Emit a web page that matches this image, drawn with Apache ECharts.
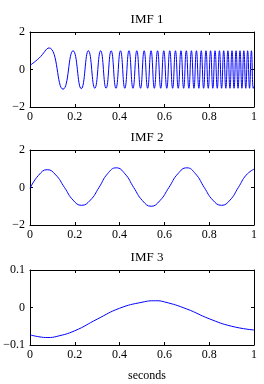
<!DOCTYPE html>
<html><head><meta charset="utf-8">
<script src="https://cdn.jsdelivr.net/npm/echarts@6/dist/echarts.min.js"></script>
<style>html,body{margin:0;padding:0;background:#fff}#c{width:264px;height:384px}</style>
</head><body><div id="c"></div>
<script>
// IMF 1 (chirp): extrema
const imf1T = [0, 0.04, 0.085, 0.1475, 0.1922, 0.2288, 0.2607, 0.2893, 0.3154, 0.3396, 0.3623, 0.3837, 0.4040, 0.4233, 0.4419, 0.4597, 0.4769, 0.4935, 0.5096, 0.5252, 0.5404, 0.5551, 0.5695, 0.5836, 0.5973, 0.6107, 0.6239, 0.6368, 0.6494, 0.6618, 0.6740, 0.6859, 0.6977, 0.7093, 0.7206, 0.7319, 0.7429, 0.7538, 0.7645, 0.7751, 0.7856, 0.7959, 0.8061, 0.8162, 0.8261, 0.8360, 0.8457, 0.8553, 0.8648, 0.8742, 0.8835, 0.8927, 0.9018, 0.9109, 0.9198, 0.9287, 0.9374, 0.9461, 0.9547, 0.9633, 0.9717, 0.9801, 0.9885, 0.9967, 1.0];
const imf1V = [0.22, 0.6, 1.15, -1.05, 1.0, -1.02, 1.0, -1.0, 1.0, -1.0, 1.0, -1.0, 1.0, -1.0, 1.0, -1.0, 1.0, -1.0, 1.0, -1.0, 1.0, -1.0, 1.0, -1.0, 1.0, -1.0, 1.0, -1.0, 1.0, -1.0, 1.0, -1.0, 1.0, -1.0, 1.0, -1.0, 1.0, -1.0, 1.0, -1.0, 1.0, -1.0, 1.0, -1.0, 1.0, -1.0, 1.0, -1.0, 1.0, -1.0, 1.0, -1.0, 1.0, -1.0, 1.0, -1.0, 1.0, -1.0, 1.0, -1.0, 1.0, -1.0, 1.0, -1.0, -0.9];
// IMF 2
const imf2T = [0, 0.038, 0.077, 0.115, 0.154, 0.192, 0.23, 0.269, 0.308, 0.346, 0.385, 0.424, 0.463, 0.502, 0.541, 0.58, 0.62, 0.66, 0.70, 0.739, 0.778, 0.816, 0.855, 0.893, 0.93, 0.965, 1.0];
const imf2V = [-0.05, 0.65, 0.95, 0.67, 0, -0.67, -0.95, -0.68, 0, 0.73, 1.05, 0.73, 0, -0.7, -1.0, -0.7, 0, 0.73, 1.05, 0.73, 0, -0.67, -0.95, -0.67, 0, 0.66, 0.98];
// IMF 3
const imf3T = [0, 0.04, 0.08, 0.12, 0.2, 0.3, 0.4, 0.5, 0.56, 0.6, 0.7, 0.8, 0.9, 1.0];
const imf3V = [-0.073, -0.078, -0.08, -0.077, -0.062, -0.031, -0.002, 0.014, 0.018, 0.015, -0.004, -0.030, -0.050, -0.060];

const titles = ['IMF 1', 'IMF 2', 'IMF 3'];
const yRanges = [[-2, 2, 2], [-2, 2, 2], [-0.1, 0.1, 0.1]];

const font = 'Liberation Serif';
const gridTops = [32, 150, 270];
const gridH = 75;
const series = [[imf1T, imf1V], [imf2T, imf2V], [imf3T, imf3V]];

const grid = [], xAxis = [], yAxis = [], ser = [], title = [];
const fmtY = v => String(Math.round(v * 1000) / 1000).replace('-', '\u2212');
gridTops.forEach((top, i) => {
  grid.push({left: 30, right: 10, top: top, height: gridH, show: false});
  const axLine = {show: true, onZero: false, lineStyle: {color: '#000', width: 1}};
  const tick = {show: true, inside: true, length: 3, lineStyle: {color: '#000'}};
  xAxis.push({type: 'value', gridIndex: i, min: 0, max: 1, interval: 0.2, position: 'bottom',
    axisLine: axLine, axisTick: tick, splitLine: {show: false},
    axisLabel: {color: '#000', fontFamily: font, fontSize: 12, margin: 4, formatter: v => String(Math.round(v * 10) / 10)}});
  xAxis.push({type: 'value', gridIndex: i, min: 0, max: 1, interval: 0.2, position: 'top',
    axisLine: axLine, axisTick: tick, splitLine: {show: false}, axisLabel: {show: false}});
  const [mn, mx, iv] = yRanges[i];
  yAxis.push({type: 'value', gridIndex: i, min: mn, max: mx, interval: iv, position: 'left',
    axisLine: axLine, axisTick: tick, splitLine: {show: false},
    axisLabel: {color: '#000', fontFamily: font, fontSize: 12, margin: 5, formatter: fmtY}});
  yAxis.push({type: 'value', gridIndex: i, min: mn, max: mx, interval: iv, position: 'right',
    axisLine: axLine, axisTick: tick, splitLine: {show: false}, axisLabel: {show: false}});
  const [T, V] = series[i];
  ser.push({type: 'line', xAxisIndex: 2 * i, yAxisIndex: 2 * i, data: T.map((t, k) => [t, V[k]]),
    showSymbol: false, smooth: 0.5, lineStyle: {color: '#0000ff', width: 1}, silent: true, animation: false});
  title.push({text: titles[i], left: 142, top: top - 24, textAlign: 'center',
    textStyle: {fontFamily: font, fontSize: 13, fontWeight: 'normal', color: '#000'}});
});
title.push({text: 'seconds', left: 142, top: 365, textAlign: 'center',
  textStyle: {fontFamily: font, fontSize: 12, fontWeight: 'normal', color: '#000'}});

const chart = echarts.init(document.getElementById('c'), null, {renderer: 'canvas'});
chart.setOption({animation: false, title, grid, xAxis, yAxis, series: ser});
</script>
</body></html>
